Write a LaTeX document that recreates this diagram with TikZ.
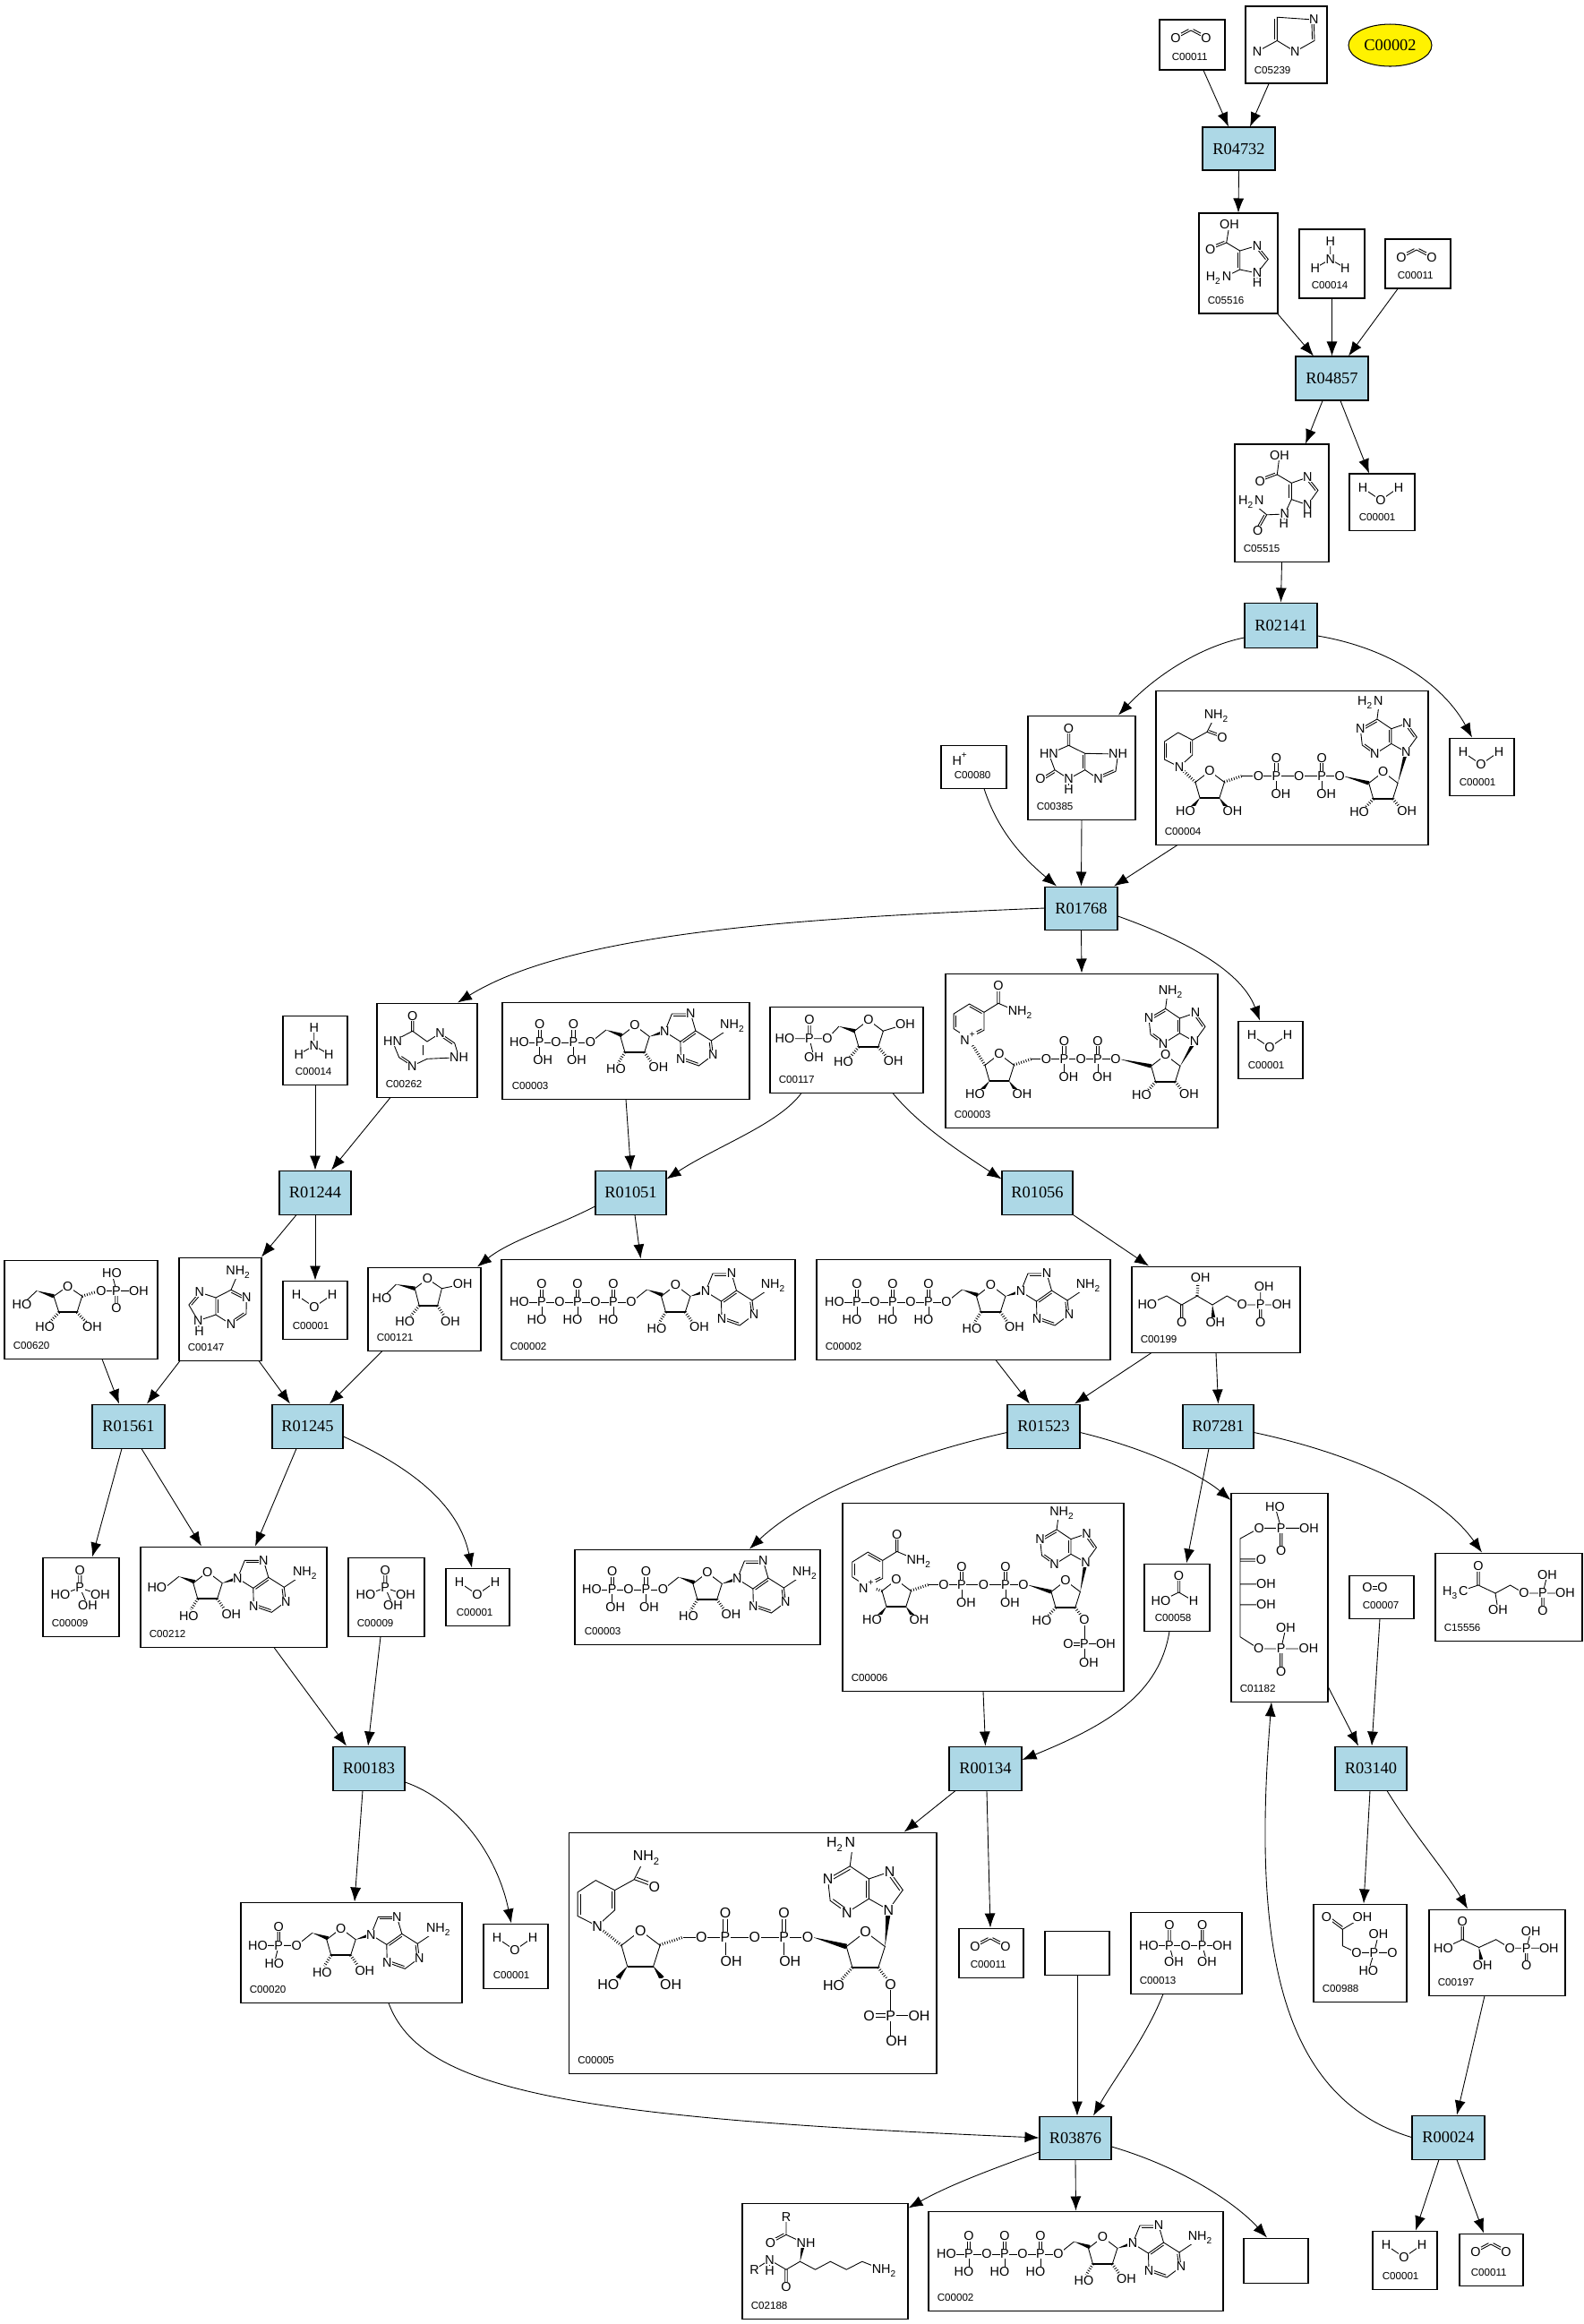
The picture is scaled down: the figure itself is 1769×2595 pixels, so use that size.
\documentclass[tikz,border=0pt]{standalone}
\usepackage{fontspec}
\setmainfont{Liberation Sans}
\newfontfamily\rxnfont{Liberation Serif}
\usepackage{tikz}
\usetikzlibrary{arrows.meta, positioning, calc, shapes.geometric}
\definecolor{rxnblue}{HTML}{ADD8E6}
\tikzset{
  cbox/.style={draw, fill=white, inner sep=0pt, line width=.26pt},
  rbox/.style={draw, fill=rxnblue, inner sep=0pt, line width=.26pt, font=\rxnfont\fontsize{4.6}{5}\selectfont},
  cid/.style={inner sep=0pt, anchor=west, font=\fontsize{2.9}{3.4}\selectfont},
  atom/.style={fill=white, inner sep=.12pt, font=\fontsize{3.6}{4}\selectfont},
  bond/.style={line width=.22pt},
  lnk/.style={-{Latex[length=4pt,width=3pt]}, line width=.22pt}
}
% boxes
\newcommand\cpd[7][9]{\node[cbox, minimum width={(#4-#3)*.25pt}, minimum height={(#6-#5)*.25pt}] (#2) at ({(#3+#4)/2},{(#5+#6)/2}) {};
  \node[cid] (#2id) at ({#3+#1},{#6-14.5}) {#7};}
\newcommand\rxn[5]{\node[rbox, minimum width={(#3-#2)*.25pt}, minimum height={(#5-#4)*.25pt}] (#1) at ({(#2+#3)/2},{(#4+#5)/2}) {\MakeUppercase{#1}};}
% connectors
\newcommand\lk[4]{\draw[lnk] ($(#1)+(#2)$) -- ($(#3)+(#4)$);}
\newcommand\cv[6]{\draw[lnk] ($(#1)+(#2)$) .. controls (#3) and (#4) .. ($(#5)+(#6)$);}
% chemistry pieces
\newcommand\mol[4]{\begin{scope}[shift={(#1,#2)},scale=#3,every node/.append style={transform shape}]#4\end{scope}}
\def\atm(#1)#2{\node[atom] at (#1) {#2};}
\def\dbl(#1)(#2){\draw[bond,shorten <=.4pt,shorten >=.4pt] ($(#1)!.6pt!90:(#2)$)--($(#2)!.6pt!-90:(#1)$);}
\def\wdg(#1)(#2){\fill (#1) -- ($(#2)!.55pt!90:(#1)$) -- ($(#2)!.55pt!-90:(#1)$) -- cycle;}
\def\hsh(#1)(#2){\draw[line width=.8pt,dash pattern=on .2pt off .5pt] (#1)--(#2);}
\newcommand\ribring{\draw[bond] (-11,30)--(-16,12.4)--(0,0)--(16.4,12.4)--(10.8,30);
  \draw[line width=.5pt] (-11,30)--(10.8,30); \atm(0,0){O}}
\newcommand\adeR{\draw[bond] (0,0)--(8,-20)--(29,-20)--(34.5,-1)--(17.5,11)--cycle (34.5,-1)--(52,10)--(54,26)--(38,38)--(18,31)--(17.5,11) (52,10)--(76,-6);
  \dbl(29,-20)(8,-20)\dbl(34.5,-1)(17.5,11)\dbl(54,26)(52,10)\dbl(18,31)(38,38)
  \atm(0,0){N}\atm(29,-20){N}\atm(54,26){N}\atm(18,31){N}\atm(76,-6){NH\textsubscript{2}}}
\newcommand\adeV[2]{\draw[bond] (0,0)--(12,-16.7)--(1,-32)--(-16.5,-26)--(-16.5,-9.3)--cycle (-16.5,-26)--(-32.4,-36.7)--(-51,-26)--(-49,-7.7)--(-35,2.3)--(-16.5,-9.3) (-32.4,-36.7)--(-30,-55);
  \dbl(12,-16.7)(1,-32)\dbl(-16.5,-9.3)(-16.5,-26)\dbl(-32.4,-36.7)(-51,-26)\dbl(-49,-7.7)(-35,2.3)
  \atm(0,0){N}\atm(1,-32){N}\atm(-51,-26){N}\atm(-35,2.3){N}\atm(#1,-55){#2}}
\newcommand\adenosine{\draw[bond] (0,0)--(17.5,-14); \wdg(17.5,-14)(35,-8)
  \mol{49.5}{-19}{1}{\ribring}
  \hsh(38.5,11)(31,23)\hsh(60.3,11)(68,22)
  \wdg(65.9,-6.6)(83,-12)
  \mol{83}{-12}{1}{\adeR}
  \atm(28.5,30){HO}\atm(76,28){OH}}
\newcommand\pup[4]{\begin{scope}[shift={(#1,#2)}]\draw[bond] (0,0)--(0,20) (-1.6,0)--(-1.6,-20) (1.6,0)--(1.6,-20);
  \atm(0,-20){O}\atm(#3,20){#4}\atm(0,0){P}\end{scope}}
\newcommand\atpmol{\draw[bond] (20,48)--(145,48); \mol{145}{48}{1}{\adenosine}
  \pup{45}{48}{-5.5}{HO}\pup{85}{48}{-5.5}{HO}\pup{125}{48}{-5.5}{HO}
  \atm(20,48){HO}\atm(65,48){O}\atm(105,48){O}\atm(145,48){O}}
\newcommand\adpmol{\draw[bond] (19,45)--(98.4,45); \mol{98.4}{45}{1}{\adenosine}
  \pup{41.7}{45}{3.5}{OH}\pup{79.5}{45}{3.5}{OH}
  \atm(19,45){HO}\atm(60,45){O}\atm(98.4,45){O}}
\newcommand\dinuc[7]{\draw[bond] (96,95.5)--({#2+20},95.5);
  \hsh(76.3,102)(96,95.5)
  \mol{60}{90}{1}{\ribring}
  \wdg(49,120)(41,130)\wdg(70.8,120)(78,130)
  \atm(33,135){HO}\atm(85.4,135){OH}
  \pup{#1}{95.5}{5}{OH}\pup{#2}{95.5}{5}{OH}
  \atm({#1-20},95.5){O}\atm({(#1+#2)/2},95.5){O}
  \wdg({#2+24},95.5)({#3-16},103.4)\atm({#2+20},95.5){O}
  \mol{#3}{91}{1}{\ribring}
  \hsh({#3-11},121)({#3-20},131)\atm({#3-26.6},136){HO}
  \wdg({#3+16.4},103.4)(#4,#5)
  \mol{#4}{#5}{1}{\adeV{#7}{#6}}}
\newcommand\rOH[1]{\hsh({#1+11},121)({#1+19},131)\atm({#1+26.4},135){OH}}
\newcommand\rpho{\draw[bond] (0,0)--(0,48) (0,26.5)--(24,26.5) (0,25)--(-18,25) (0,28)--(-18,28);
  \atm(0,0){O}\atm(0,26.5){P}\atm(-18,26.5){O}\atm(24,26.5){OH}\atm(5,48){OH}}
\newcommand\nicoP{\draw[bond] (0,0)--(-16.5,-10.6)--(-16.5,-27.3)--(1,-38.3)--(17.4,-29)--(17.4,-9)--cycle (17.4,-29)--(33.4,-39)--(58.4,-28.3) (32.2,-39)--(32.2,-58) (34.6,-39)--(34.6,-58);
  \dbl(-16.5,-27.3)(-16.5,-10.6)\dbl(17.4,-29)(1,-38.3)\dbl(0,0)(17.4,-9)
  \atm(0,0){N\textsuperscript{+}}\atm(33.4,-58.3){O}\atm(58.4,-28.3){NH\textsubscript{2}}}
\newcommand\nicoH{\draw[bond] (0,0)--(-16.5,-8.3)--(-16.5,-28.3)--(-1.3,-38.3)--(14.7,-30)--(14.7,-13.3)--cycle (14.7,-30)--(31,-39)--(40,-57);
  \draw[bond] (31,-39)--(48,-32.7); \dbl(31,-39)(48,-32.7)
  \dbl(-16.5,-28.3)(-16.5,-8.3)\dbl(14.7,-13.3)(14.7,-30)
  \atm(0,0){N}\atm(48,-32.7){O}\atm(42,-57){NH\textsubscript{2}}}
\newcommand\water{\draw[bond] (15,16)--(35,29.5)--(55,15.5); \atm(15,16){H}\atm(35,29.5){O}\atm(55,15.5){H}}
\newcommand\cotwo{\draw[bond] (18,21)--(35,12)--(52,21); \dbl(18,21)(35,12)\dbl(35,12)(52,21) \atm(18,21){O}\atm(52,21){O}}
\newcommand\ammonia{\draw[bond] (34.7,14)--(34.7,33.5) (17.7,43.3)--(34.7,33.5)--(51.3,43.3);
  \atm(34.7,14){H}\atm(34.7,33.5){N}\atm(17.7,43.3){H}\atm(51.3,43.3){H}}
\newcommand\piacid{\draw[bond] (39.7,14.7)--(39.7,34) (42.9,14.7)--(42.9,34) (19.5,41.7)--(41.3,34)--(64,41.7) (41.3,34)--(50,54);
  \atm(41.3,14.7){O}\atm(41.3,34){P}\atm(19.5,41.7){HO}\atm(64,41.7){OH}\atm(50,54){OH}}
\begin{document}
\begin{tikzpicture}[x=.25pt, y=-.25pt]
\useasboundingbox (0,0) rectangle (1769,2595);
\fill[white] (0,0) rectangle (1769,2595);
% compounds
\cpd[13]{c00011a}{1295}{1368}{22}{78}{C00011}
\cpd{c05239}{1391}{1482}{7}{93}{C05239}
\node[ellipse, draw, fill=yellow, inner sep=0pt, line width=.26pt, minimum width=93*.25pt, minimum height=47*.25pt, font=\rxnfont\fontsize{4.6}{5}\selectfont] (c00002top) at (1552.5,50.5) {C00002};
\cpd{c05516}{1339}{1427}{238}{350}{C05516}
\cpd[13]{c00014a}{1451}{1524}{256}{333}{C00014}
\cpd[13]{c00011b}{1547}{1620}{267}{322}{C00011}
\cpd{c05515}{1379}{1484}{496}{627}{C05515}
\cpd[10]{c00001a}{1507}{1580}{529}{592}{C00001}
\cpd{c00385}{1148}{1268}{799}{915}{C00385}
\cpd{c00004}{1291}{1595}{771}{943}{C00004}
\cpd[10]{c00001b}{1619}{1691}{824}{888}{C00001}
\cpd[14]{c00080}{1051}{1124}{832}{880}{C00080}
\cpd{c00003n}{1056}{1360}{1087}{1259}{C00003}
\cpd[10]{c00001c}{1383}{1455}{1140}{1204}{C00001}
\cpd[13]{c00014b}{316}{388}{1134}{1211}{C00014}
\cpd{c00262}{421}{533}{1120}{1225}{C00262}
\cpd[10]{c00003a}{561}{837}{1119}{1227}{C00003}
\cpd{c00117}{860}{1031}{1124}{1220}{C00117}
\cpd[10]{c00001d}{316}{388}{1430}{1495}{C00001}
\cpd{c00121}{411}{537}{1415}{1508}{C00121}
\cpd{c00002a}{560}{888}{1406}{1518}{C00002}
\cpd{c00002b}{912}{1240}{1406}{1518}{C00002}
\cpd{c00199}{1264}{1452}{1414}{1510}{C00199}
\cpd{c00620}{5}{176}{1407}{1517}{C00620}
\cpd{c00147}{200}{292}{1404}{1519}{C00147}
\cpd{c00009a}{48}{133}{1739}{1827}{C00009}
\cpd{c00212}{157}{365}{1727}{1839}{C00212}
\cpd{c00009b}{389}{474}{1739}{1827}{C00009}
\cpd[11]{c00001e}{498}{569}{1751}{1815}{C00001}
\cpd[10]{c00003b}{642}{916}{1730}{1836}{C00003}
\cpd{c00006}{941}{1255}{1678}{1888}{C00006}
\cpd[11]{c00058}{1278}{1351}{1746}{1821}{C00058}
\cpd{c01182}{1375}{1483}{1667}{1900}{C01182}
\cpd[14]{c00007}{1507}{1579}{1759}{1807}{C00007}
\cpd{c15556}{1603}{1767}{1734}{1832}{C15556}
\cpd{c00005}{635.5}{1046}{2046}{2315}{C00005}
\cpd[12]{c00011c}{1071}{1143}{2153}{2208}{C00011}
\cpd{blanka}{1167}{1239}{2156}{2205}{}
\cpd{c00013}{1263}{1387}{2135}{2226}{C00013}
\cpd{c00988}{1467}{1571}{2126}{2235}{C00988}
\cpd{c00197}{1596}{1748}{2132}{2228}{C00197}
\cpd{c00020}{269}{516}{2124}{2236}{C00020}
\cpd[10]{c00001f}{540}{612}{2148}{2220}{C00001}
\cpd{c02188}{829}{1014}{2460}{2589}{C02188}
\cpd{c00002c}{1037}{1366}{2469}{2580}{C00002}
\cpd{blankb}{1389}{1461}{2499}{2549}{}
\cpd[10]{c00001g}{1533}{1605}{2491}{2556}{C00001}
\cpd[12]{c00011d}{1630}{1701}{2494}{2552}{C00011}
% reactions
\rxn{r04732}{1343}{1424}{142}{190}
\rxn{r04857}{1447}{1528}{398}{447}
\rxn{r02141}{1390}{1471}{673}{723}
\rxn{r01768}{1167}{1248}{990}{1038}
\rxn{r01244}{312}{392}{1307}{1356}
\rxn{r01051}{665}{744}{1307}{1356}
\rxn{r01056}{1119}{1198}{1307}{1356}
\rxn{r01561}{103}{184}{1568}{1617}
\rxn{r01245}{304}{383}{1568}{1617}
\rxn{r01523}{1125}{1206}{1568}{1617}
\rxn{r07281}{1321}{1400}{1568}{1617}
\rxn{r00183}{372}{452}{1950}{1999}
\rxn{r00134}{1060}{1141}{1950}{1999}
\rxn{r03140}{1491}{1571}{1950}{1999}
\rxn{r03876}{1161}{1241}{2363}{2411}
\rxn{r00024}{1577}{1658}{2362}{2411}
% structures
\mol{1295}{22}{1}{\cotwo}
\mol{1547}{267}{1}{\cotwo}
\mol{1071}{2153}{1}{\cotwo}
\mol{1630}{2494}{1}{\cotwo}
\mol{1507}{529}{1}{\water}
\mol{1619}{824}{1}{\water}
\mol{1383}{1140}{1}{\water}
\mol{316}{1430}{1}{\water}
\mol{498}{1751}{1}{\water}
\mol{540}{2148}{1}{\water}
\mol{1533}{2491}{1}{\water}
\mol{1451}{256}{1}{\ammonia}
\mol{316}{1134}{1}{\ammonia}
\mol{48}{1739}{1}{\piacid}
\mol{389}{1739}{1}{\piacid}
\mol{560}{1406}{1}{\atpmol}
\mol{912}{1406}{1}{\atpmol}
\mol{1037}{2469}{1}{\atpmol}
\mol{561}{1119}{1}{\adpmol}
\mol{642}{1730}{1}{\adpmol}
\mol{1051}{832}{1}{\atm(21.7,16){H\textsuperscript{+}}}
\mol{1507}{1759}{1}{\draw[bond] (20,12.6)--(37,12.6) (20,15.4)--(37,15.4); \atm(20,14){O}\atm(37,14){O}}
% c05239
\mol{1391}{7}{1}{\draw[bond] (76.3,15)--(35.3,12.2)--(35.3,38.4)--(55.3,50.6)--(77,38.4)--(76.3,15) (13,50.6)--(35.3,38.4);
  \dbl(35.3,38.4)(35.3,12.2)\dbl(77,38.4)(76.3,15)
  \atm(76.3,15){N}\atm(55.3,50.6){N}\atm(13,50.6){N}}
% c05516
\mol{1339}{238}{1}{\draw[bond] (34,13)--(30.7,33)--(45.7,42)--(45.7,63)--(65,67)--(77.3,51.4)--(65,36.3)--(45.7,42) (30.7,33)--(12.7,40.4) (45.7,63)--(25.7,72.7) (65,67)--(65,78);
  \dbl(12.7,40.4)(30.7,33)\dbl(45.7,63)(45.7,42)\dbl(77.3,51.4)(65,36.3)
  \atm(34,13){OH}\atm(12.7,40.4){O}\atm(65,36.3){N}\atm(65,67){N}\atm(65,78){H}\atm(22,72.7){H\textsubscript{2}N}}
% c05515
\mol{1379}{496}{1}{\draw[bond] (50,12.7)--(47.3,33.9)--(63.3,43.3)--(63.3,61.6)--(81.3,67.8)--(93,51.4)--(81.3,37)--(63.3,43.3) (47.3,33.9)--(28.3,41.2) (63.3,61.6)--(55.7,78)--(35.7,78.8)--(18.3,64.5) (35.7,78.8)--(25.7,96.3) (81.3,67.8)--(81.3,78) (55.7,78)--(54.7,89);
  \dbl(28.3,41.2)(47.3,33.9)\dbl(63.3,61.6)(63.3,43.3)\dbl(93,51.4)(81.3,37)\dbl(25.7,96.3)(35.7,78.8)
  \atm(50,12.7){OH}\atm(28.3,41.2){O}\atm(81.3,37){N}\atm(81.3,67.8){N}\atm(81.3,78){H}\atm(55.7,78){N}\atm(54.7,89){H}\atm(18.3,64.5){H\textsubscript{2}N}\atm(25.7,96.3){O}}
% c00385
\mol{1148}{799}{1}{\draw[bond] (44.3,14.7)--(44.3,33.3) (46.7,14.7)--(46.7,33.3) (45.5,33.3)--(23.4,43)--(30,60.7)--(45.5,70.7)--(63.7,60.7)--(63.7,42.3)--(45.5,33.3) (63.7,42.3)--(100.6,43)--(98,62.3)--(78.5,70.7)--(63.7,60.7) (30,60.7)--(13.9,70.7) (45.5,70.7)--(45.5,83);
  \dbl(30,60.7)(13.9,70.7)\dbl(63.7,60.7)(63.7,42.3)\dbl(78.5,70.7)(98,62.3)
  \atm(45.5,14.7){O}\atm(23.4,43){HN}\atm(13.9,70.7){O}\atm(45.5,70.7){N}\atm(45.5,83){H}\atm(100.6,43){NH}\atm(78.5,70.7){N}}
% c00004
\mol{1291}{771}{1}{\dinuc{134.4}{185.1}{253.7}{279.3}{68.7}{H\textsubscript{2}N}{-40}\rOH{253.7}\hsh(44,102.4)(26,85.3)\mol{26}{85.3}{1}{\nicoH}}
% c00003 with nicotinamide
\mol{1056}{1087}{1}{\dinuc{132.4}{170}{245.6}{278}{76}{NH\textsubscript{2}}{-26}\rOH{245.6}\hsh(44,102.4)(25.6,72.3)\mol{25.6}{72.3}{1}{\nicoP}}
% c00006
\mol{941}{1674}{1}{\dinuc{133}{182}{249}{271.5}{70.6}{NH\textsubscript{2}}{-26}\hsh(259.8,121)(270,135)\hsh(44,102.4)(27.3,97.4)\mol{27.3}{97.4}{1}{\nicoP}\mol{270}{135}{1}{\rpho}}
% c00005
\mol{635.5}{2036}{1.33}{\tikzset{atom/.append style={font=\fontsize{3}{3.6}\selectfont}}\dinuc{131.2}{180.5}{248.9}{268.3}{72.6}{H\textsubscript{2}N}{-40}\hsh(259.7,121)(270,135)\hsh(44,102.4)(23.7,86.1)\mol{23.7}{86.1}{1}{\nicoH}\mol{270}{135}{1}{\rpho}}
% c00262
\mol{421}{1120}{1}{\draw[bond] (38.5,14.7)--(38.5,31.3) (40.9,14.7)--(40.9,31.3) (39.7,31.3)--(17.5,43)--(24.7,60.7)--(39.3,70.3)--(56,62.3)--(91.6,60.7)--(86.7,44.7)--(70.6,33.7)--(56,43)--(39.7,31.3) (51.5,47)--(51.5,58);
  \dbl(24.7,60.7)(39.3,70.3)\dbl(86.7,44.7)(70.6,33.7)
  \atm(39.7,14.7){O}\atm(17.5,43){HN}\atm(39.3,70.3){N}\atm(70.6,33.7){N}\atm(91.6,60.7){NH}}
% c00117
\mol{860}{1124}{1}{\draw[bond] (16.5,35.7)--(64,35.7)--(77,22) (49,56.3)--(44,35.7) (42.8,15)--(42.8,35.7) (45.2,15)--(45.2,35.7) (125.6,27.4)--(151,19.7);
  \wdg(77,22)(95,27.3)\mol{110}{15}{1}{\ribring}
  \hsh(99,45)(88,58)\hsh(120.8,45)(131,57)
  \atm(16.5,35.7){HO}\atm(44,35.7){P}\atm(44,15){O}\atm(49,56.3){OH}\atm(64,35.7){O}\atm(82,61.7){HO}\atm(137.7,60.7){OH}\atm(151,19.7){OH}}
% c00121
\mol{411}{1415}{1}{\draw[bond] (15.5,34.7)--(31.5,19) (82.4,23.7)--(105.6,19) (52.3,23.7)--(66.4,13)--(82.4,23.7)--(77.6,43) (57.2,43)--(52.3,23.7);
  \draw[line width=.5pt] (57.2,43)--(77.6,43); \wdg(31.5,19)(52.3,23.7)
  \hsh(57.2,43)(48,54)\hsh(77.6,43)(85,54)
  \atm(66.4,13){O}\atm(15.5,34.7){HO}\atm(41.2,60.3){HO}\atm(92,60.3){OH}\atm(105.6,19){OH}}
% c00199
\mol{1264}{1414}{1}{\draw[bond] (17.3,43)--(39,33)--(55.7,43)--(73,33)--(90,43)--(106.3,33)--(123.3,43)--(167.3,43) (143.7,23)--(143.7,43) (54.5,43)--(54.5,63) (56.9,43)--(56.9,63) (142.5,43)--(142.5,63) (144.9,43)--(144.9,63);
  \hsh(73,33)(74,18)\wdg(90,43)(91,57)
  \atm(17.3,43){HO}\atm(55.7,63){O}\atm(76.7,13){OH}\atm(93.3,63){OH}\atm(123.3,43){O}\atm(143.7,43){P}\atm(147.7,23){OH}\atm(167.3,43){OH}\atm(143.7,63){O}}
% c00620
\mol{5}{1407}{1}{\draw[bond] (19.5,50)--(36,34.3) (55,40.3)--(70.6,29.3)--(86.7,40.3)--(81,58.3) (60.8,58.3)--(55,40.3) (108,34.3)--(150,34.3) (120,15)--(125,34.3) (123.8,34.3)--(123.8,53.7) (126.2,34.3)--(126.2,53.7);
  \draw[line width=.5pt] (60.8,58.3)--(81,58.3); \wdg(36,34.3)(55,40.3)
  \hsh(86.7,40.3)(104,35)\hsh(60.8,58.3)(50,70)\hsh(81,58.3)(92,70)
  \atm(70.6,29.3){O}\atm(19.5,50){HO}\atm(45.3,74.3){HO}\atm(98,74.3){OH}\atm(108,34.3){O}\atm(125,34.3){P}\atm(150,34.3){OH}\atm(120,15){HO}\atm(125,53.7){O}}
% c00147
\mol{200}{1404}{1}{\draw[bond] (66.6,16.3)--(58,36.3)--(75.2,45)--(75,63)--(58,74.7)--(41,64)--(41,45)--(58,36.3) (41,45)--(22.9,39)--(10.9,53)--(21.3,70.7)--(41,64) (21.3,70.7)--(22.5,83);
  \dbl(41,45)(41,64)\dbl(75.2,45)(58,36.3)\dbl(58,74.7)(75,63)\dbl(22.9,39)(10.9,53)
  \atm(66.6,16.3){NH\textsubscript{2}}\atm(75.2,45){N}\atm(58,74.7){N}\atm(22.9,39){N}\atm(21.3,70.7){N}\atm(22.5,83){H}}
% c00212
\mol{157}{1727}{1}{\mol{25.3}{47.3}{1}{\adenosine}\atm(18.4,46){HO}}
% c00020
\mol{269}{2124}{1}{\draw[bond] (19,48.3)--(62.3,48.3) (42.3,48.3)--(37.3,68.3) (41.1,27.7)--(41.1,48.3) (43.5,27.7)--(43.5,48.3); \mol{62.3}{48.3}{1}{\adenosine}
  \atm(19,48.3){HO}\atm(42.3,48.3){P}\atm(42.3,27.7){O}\atm(37.3,68.3){HO}\atm(62.3,48.3){O}}
% c00058
\mol{1278}{1746}{1}{\draw[bond] (18.4,41.7)--(38.5,32)--(55,41.7) (37.3,13.8)--(37.3,32) (39.7,13.8)--(39.7,32);
  \atm(38.5,13.8){O}\atm(18.4,41.7){HO}\atm(55,41.7){H}}
% c01182
\mol{1375}{1667}{1}{\draw[bond] (49,15.3)--(55.7,39.4) (31.2,39.4)--(87,39.4) (54.5,39.4)--(54.5,64.3) (56.9,39.4)--(56.9,64.3) (31.2,39.4)--(10,51)--(10,160.7)--(30.7,174) (10,73.8)--(33.4,73.8) (10,76.2)--(33.4,76.2) (10,101.8)--(39,101.8) (10,124.8)--(39,124.8) (30.7,174)--(86.4,174) (61,150.4)--(55.7,174) (54.5,174)--(54.5,199.4) (56.9,174)--(56.9,199.4);
  \atm(49,15.3){HO}\atm(31.2,39.4){O}\atm(55.7,39.4){P}\atm(87,39.4){OH}\atm(55.7,64.3){O}\atm(33.4,75){O}\atm(39,101.8){OH}\atm(39,124.8){OH}\atm(30.7,174){O}\atm(55.7,174){P}\atm(86.4,174){OH}\atm(61,150.4){OH}\atm(55.7,199.4){O}}
% c15556
\mol{1603}{1734}{1}{\draw[bond] (22.3,44.4)--(48,36)--(67,45)--(83.6,36)--(99,45)--(145,45) (125,24.5)--(120,45) (46.8,15)--(46.8,36) (49.2,15)--(49.2,36) (118.8,45)--(118.8,64.7) (121.2,45)--(121.2,64.7) (67,45)--(70,64);
  \atm(48,15){O}\atm(22.3,44.4){H\textsubscript{3}C}\atm(99,45){O}\atm(120,45){P}\atm(125,24.5){OH}\atm(145,45){OH}\atm(120,64.7){O}\atm(70,64){OH}}
% c00988
\mol{1467}{2126}{1}{\draw[bond] (54.5,15)--(32.3,28.3)--(32.3,46.7)--(48,54.3)--(88,54.3) (14.5,15)--(32.3,28.3) (72.5,34)--(67.5,54.3)--(61.3,74.6);
  \dbl(14.5,15)(32.3,28.3)
  \atm(14.5,15){O}\atm(54.5,15){OH}\atm(48,54.3){O}\atm(67.5,54.3){P}\atm(72.5,34){OH}\atm(88,54.3){O}\atm(61.3,74.6){HO}}
% c00197
\mol{1596}{2132}{1}{\draw[bond] (16,43.6)--(37.3,33.7)--(55.7,42.5)--(74.7,33.7)--(90.3,43.2)--(133.8,43.2) (113.7,24.5)--(108.7,43.2) (36.1,13.8)--(36.1,33.7) (38.5,13.8)--(38.5,33.7) (107.5,43.2)--(107.5,62.4) (109.9,43.2)--(109.9,62.4);
  \wdg(55.7,42.5)(58,56)
  \atm(37.3,13.8){O}\atm(16,43.6){HO}\atm(59.6,62.8){OH}\atm(90.3,43.2){O}\atm(108.7,43.2){P}\atm(113.7,24.5){OH}\atm(133.8,43.2){OH}\atm(108.7,62.4){O}}
% c00013
\mol{1263}{2135}{1}{\draw[bond] (20,37.5)--(102,37.5) (43,37.5)--(48,56) (79.7,37.5)--(85,56) (41.8,14.5)--(41.8,37.5) (44.2,14.5)--(44.2,37.5) (78.5,14.5)--(78.5,37.5) (80.9,14.5)--(80.9,37.5);
  \atm(20,37.5){HO}\atm(43,37.5){P}\atm(61.3,37.5){O}\atm(79.7,37.5){P}\atm(102,37.5){OH}\atm(43,14.5){O}\atm(79.7,14.5){O}\atm(48,56){OH}\atm(85,56){OH}}
% c02188
\mol{829}{2460}{1}{\draw[bond] (49,15.5)--(49,35.3)--(69.3,44.7) (49,35.3)--(31.5,44.7) (30.5,63.4)--(49,74.2)--(64.5,65.2)--(81.5,74.2)--(98.4,65.2)--(116.3,74.2)--(133.8,65.2)--(159,75.3) (30.5,63.4)--(30.5,75.3) (30.5,63.4)--(13.6,74.2) (47.8,74.2)--(47.8,94) (50.2,74.2)--(50.2,94);
  \dbl(31.5,44.7)(49,35.3)\wdg(64.5,65.2)(68,46)
  \atm(49,15.5){R}\atm(31.5,44.7){O}\atm(71,44.7){NH}\atm(49,94){O}\atm(30.5,63.4){N}\atm(30.5,75.3){H}\atm(13.6,74.2){R}\atm(159,75.3){NH\textsubscript{2}}}
% connectors
\lk{c00011a.south}{12.5,0}{r04732.north}{-11.5,0}
\lk{c05239.south}{-19.5,0}{r04732.north}{12.5,0}
\lk{r04732.south}{0,0}{c05516.north}{0,0}
\lk{c05516.south}{44,0}{r04857.north}{-20.5,0}
\lk{c00014a.south}{0,0}{r04857.north}{0,0}
\lk{c00011b.south}{-22.5,0}{r04857.north}{18.5,0}
\lk{r04857.south}{-10.5,0}{c05515.north}{26.5,0}
\lk{r04857.south}{9.5,0}{c00001a.north}{-14.5,0}
\lk{c05515.south}{0,0}{r02141.north}{0,0}
\cv{r02141.west}{0,14}{1340,722}{1290,755}{c00385.north}{41,0}
\cv{r02141.east}{0,12}{1560,725}{1615,770}{c00001b.north}{-11,0}
\cv{c00080.south}{11.5,0}{1115,930}{1145,960}{r01768.north}{-27.5,0}
\lk{c00385.south}{0,0}{r01768.north}{0,0}
\lk{c00004.south}{-128,0}{r01768.north}{36.5,0}
\lk{r01768.south}{0,0}{c00003n.north}{0,0}
\cv{r01768.east}{0,9}{1310,1045}{1385,1080}{c00001c.north}{-12,0}
\cv{r01768.west}{0,0}{900,1025}{640,1040}{c00262.north}{34,0}
\lk{c00014b.south}{0,0}{r01244.north}{0,0}
\lk{c00262.south}{-41,0}{r01244.north}{18,0}
\lk{c00003a.south}{0,0}{r01051.north}{0,0}
\cv{c00117.south}{-50.5,0}{870,1255}{800,1280}{r01051.east}{0,-15}
\cv{c00117.south}{51.5,0}{1025,1255}{1070,1285}{r01056.west}{0,-15}
\lk{r01244.south}{-21,0}{c00147.north}{46,0}
\lk{r01244.south}{0,0}{c00001d.north}{0,0}
\cv{r01051.west}{0,15.5}{620,1370}{570,1385}{c00121.north}{59,0}
\lk{r01051.south}{4.5,0}{c00002a.north}{-8.5,0}
\lk{r01056.south east}{0,0}{c00199.north}{-75,0}
\lk{c00620.south}{23.5,0}{r01561.north}{-10.5,0}
\lk{c00147.south}{-45,0}{r01561.north}{20.5,0}
\lk{c00147.south}{43,0}{r01245.north}{-19.5,0}
\lk{c00121.south}{-47,0}{r01245.north}{24.5,0}
\lk{r01561.south}{-7.5,0}{c00009a.north}{12.5,0}
\lk{r01561.south}{14.5,0}{c00212.north}{-36,0}
\lk{r01245.south}{-12.5,0}{c00212.north}{24,0}
\cv{r01245.east}{0,11.5}{440,1630}{510,1670}{c00001e.north}{-6.5,0}
\lk{c00212.south}{45,0}{r00183.north}{-25,0}
\lk{c00009b.south}{-6.5,0}{r00183.north}{-1,0}
\lk{r00183.south}{-7,0}{c00020.north}{3.5,0}
\cv{r00183.east}{0,15.5}{510,2010}{555,2070}{c00001f.north}{-5,0}
\cv{c00020.south}{41.5,0}{470,2335}{640,2365}{r03876.west}{0,0}
\lk{c00002b.south}{36,0}{r01523.north}{-15.5,0}
\lk{c00199.south}{-72,0}{r01523.north}{34.5,0}
\lk{c00199.south}{0,0}{r07281.north}{0,0}
\cv{r01523.west}{0,7}{1010,1625}{900,1670}{c00003b.north}{58,0}
\cv{r01523.east}{0,7}{1290,1620}{1345,1650}{c01182.west}{0,-108.5}
\lk{r07281.south}{-10.5,0}{c00058.north}{10.5,0}
\cv{r07281.east}{0,7}{1520,1625}{1610,1670}{c15556.north}{-30,0}
\lk{c00006.south}{0,0}{r00134.north}{0,0}
\cv{c00058.south}{-8.5,0}{1295,1890}{1240,1925}{r00134.east}{0,-9.5}
\lk{r00134.south}{-33.5,0}{c00005.north}{169,0}
\lk{r00134.south}{1.5,0}{c00011c.north}{-1,0}
\lk{c01182.east}{0,100.5}{r03140.north}{-14,0}
\lk{c00007.south}{-2,0}{r03140.north}{1,0}
\lk{r03140.south}{-1,0}{c00988.north}{4,0}
\cv{r03140.south}{18,0}{1580,2050}{1615,2090}{c00197.north}{-33,0}
\cv{r00024.west}{0,0}{1420,2340}{1400,2150}{c01182.south}{-9,0}
\lk{c00197.south}{-14,0}{r00024.north}{9.5,0}
\lk{r00024.south}{-10.5,0}{c00001g.north}{12,0}
\lk{r00024.south}{9.5,0}{c00011d.north}{-8.5,0}
\lk{blanka.south}{0,0}{r03876.north}{2,0}
\cv{c00013.south}{-26,0}{1280,2275}{1245,2320}{r03876.north}{20,0}
\cv{r03876.west}{0,16}{1105,2423}{1060,2440}{c02188.north east}{0,6}
\lk{r03876.south}{0,0}{c00002c.north}{0,0}
\cv{r03876.east}{0,10}{1320,2420}{1380,2460}{blankb.north}{-10,0}
\end{tikzpicture}
\end{document}
